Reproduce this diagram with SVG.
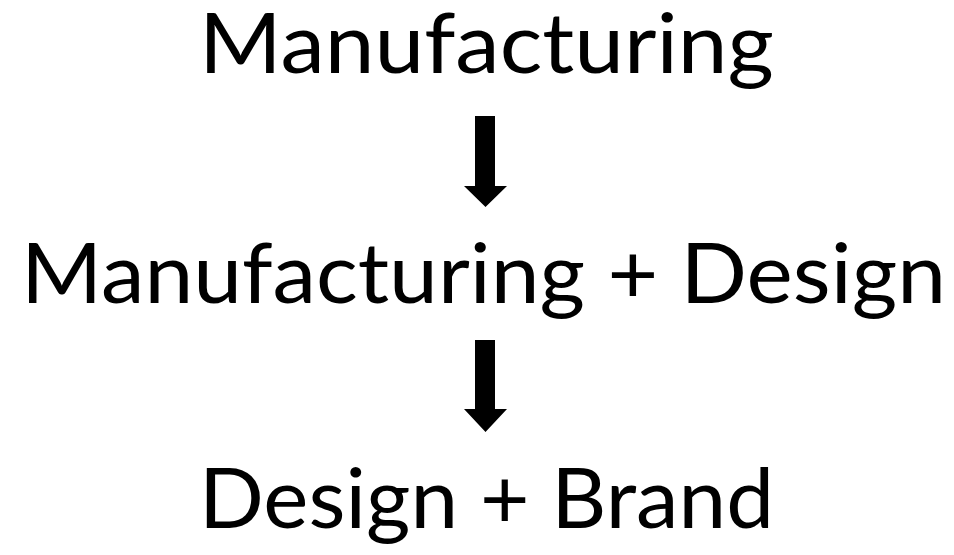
<svg xmlns="http://www.w3.org/2000/svg" width="954" height="555" viewBox="0 0 954 555">
  <style>
    .label { font-family: "Lato", "Open Sans", "Liberation Sans", sans-serif; font-size: 84px; fill: #000; text-anchor: middle; }
    .arrow { fill: #000; }
  </style>
  <rect width="954" height="555" fill="#fff"/>
  <g id="node-manufacturing">
    <text class="label" x="486.5" y="73" textLength="575" lengthAdjust="spacingAndGlyphs">Manufacturing</text>
  </g>
  <g id="node-manufacturing-design">
    <text class="label" x="483.5" y="303" textLength="925" lengthAdjust="spacingAndGlyphs">Manufacturing + Design</text>
  </g>
  <g id="node-design-brand">
    <text class="label" x="486.5" y="528" textLength="575" lengthAdjust="spacingAndGlyphs">Design + Brand</text>
  </g>
  <g id="connectors">
    <polygon class="arrow" points="475,116 495,116 495,186 507,186 485.5,207 464,186 475,186"/>
    <polygon class="arrow" points="475,340 495,340 495,409 507,409 485.5,432 464,409 475,409"/>
  </g>
</svg>
